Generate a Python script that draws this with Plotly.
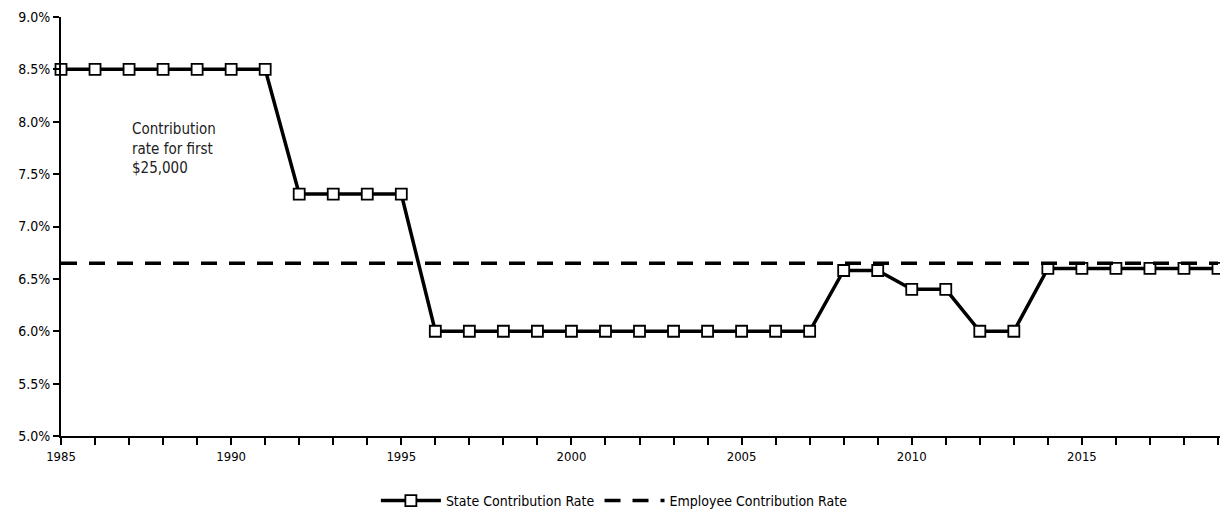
import plotly.graph_objects as go

years = list(range(1985, 2020))
state_rate = [0.085]*7 + [0.0731]*4 + [0.060]*12 + [0.0658]*2 + [0.064]*2 + [0.060]*2 + [0.066]*6
employee_rate = [0.0665]*len(years)
x_ticks = [1985, 1990, 1995, 2000, 2005, 2010, 2015]

font_family = "DejaVu Sans Condensed, Liberation Sans Narrow, sans-serif"

fig = go.Figure()
fig.add_trace(go.Scatter(
    x=years, y=state_rate, mode="lines+markers", name="State Contribution Rate",
    line=dict(color="black", width=3.5),
    marker=dict(symbol="square", size=11, color="white", line=dict(color="black", width=1.8)),
    cliponaxis=False,
))
fig.add_trace(go.Scatter(
    x=years, y=employee_rate, mode="lines", name="Employee Contribution Rate",
    line=dict(color="black", width=3.5, dash="16px,12px"),
    cliponaxis=False,
))
fig.add_annotation(
    x=1987.03, y=0.0774, xref="x", yref="y", xanchor="left", yanchor="middle",
    text="Contribution<br>rate for first<br>$25,000", showarrow=False, align="left",
    font=dict(family=font_family, size=15, color="#222"),
)
# page body has an 8px default margin: shift everything by -8px
fig.update_layout(
    width=1220, height=511,
    margin=dict(l=53, r=2, t=9, b=83),
    paper_bgcolor="white", plot_bgcolor="white",
    font=dict(family=font_family, size=14, color="black"),
    showlegend=True,
    legend=dict(orientation="h", x=0.475, xanchor="center", y=-0.155, yanchor="middle",
                font=dict(size=14), itemwidth=60, tracegroupgap=0),
)
fig.update_xaxes(
    range=[1985, 2019.235], tickmode="array", tickvals=years,
    ticktext=[str(y) if y in x_ticks else "" for y in years],
    ticks="outside", ticklen=7, tickwidth=1.5, tickcolor="black",
    showline=True, linecolor="black", linewidth=2, showgrid=False, zeroline=False,
    tickfont=dict(size=13, family=font_family), automargin=False,
)
fig.update_yaxes(
    range=[0.05, 0.09], dtick=0.005, tickformat=".1%",
    ticks="outside", ticklen=6, tickwidth=1.5, tickcolor="black",
    showline=True, linecolor="black", linewidth=2, showgrid=False, zeroline=False,
    tickfont=dict(size=14, family=font_family), automargin=False,
)
fig.write_html("out.html")
